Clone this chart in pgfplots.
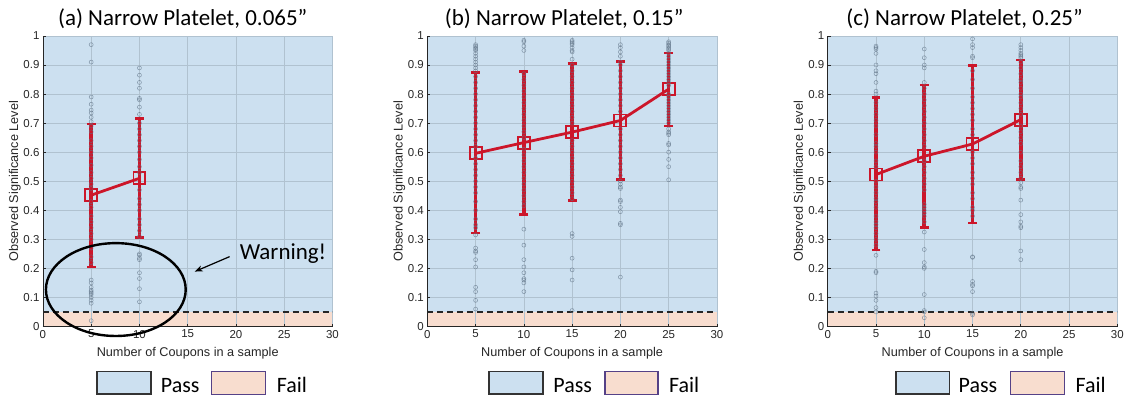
\documentclass[border=0pt]{standalone}
\usepackage{fontspec}
\setmainfont{Liberation Sans}
\newfontfamily\calibri{Carlito}
\usepackage{pgfplots}
\pgfplotsset{compat=1.18}
\usetikzlibrary{arrows.meta}
\definecolor{passblue}{RGB}{204,224,240}
\definecolor{failpeach}{RGB}{248,221,207}
\definecolor{gridc}{RGB}{176,194,208}
\definecolor{axc}{RGB}{38,38,38}
\definecolor{myred}{RGB}{204,22,42}
\definecolor{ptgray}{RGB}{95,115,135}
\definecolor{failedge}{RGB}{85,65,135}
\pgfplotsset{
  myax/.style={
    set layers,
    scale only axis, width=290bp, height=291bp,
    xmin=0, xmax=30, ymin=0, ymax=1,
    xtick={0,5,10,15,20,25,30},
    ytick={0,0.1,0.2,0.3,0.4,0.5,0.6,0.7,0.8,0.9,1},
    axis lines*=left,
    grid=major,
    major grid style={draw=gridc, line width=0.6bp},
    tick align=inside, major tick length=3bp,
    axis line style={draw=axc, line width=0.8bp},
    tick style={draw=axc, line width=0.6bp},
    ticklabel style={font=\fontsize{11.5bp}{13bp}\selectfont, text=axc},
    /pgf/number format/assume math mode=true,
    xlabel={Number of Coupons in a sample},
    ylabel={Observed Significance Level},
    label style={font=\fontsize{12.7bp}{14bp}\selectfont, text=axc},
    xlabel style={at={(axis description cs:0.5,-0.093)}, anchor=center},
    ylabel style={at={(axis description cs:-0.097,0.5)}, anchor=center},
  },
  meanline/.style={draw=myred, line width=2.8bp, mark=square, mark size=6bp,
    mark options={draw=myred, line width=1.9bp, fill=none, solid},
    error bars/.cd, y dir=both, y explicit,
    error bar style={line width=3.6bp, draw=myred},
    error mark options={rotate=90, mark size=4.4bp, line width=2.8bp, draw=myred}},
  pts/.style={only marks, mark=o, mark size=2bp,
    mark options={draw=ptgray, line width=0.5bp, draw opacity=0.7}},
}
\newcommand{\bgregions}{%
  \addplot[on layer=axis background, fill=passblue, draw=none] coordinates {(0,0.05) (30,0.05) (30,1) (0,1)} -- cycle;
  \addplot[on layer=axis background, fill=failpeach, draw=none] coordinates {(0,0) (30,0) (30,0.05) (0,0.05)} -- cycle;
  \addplot[draw=black!85, line width=1.5bp, dash pattern=on 6bp off 4bp] coordinates {(0,0.05) (30,0.05)};
}
\begin{document}
\begin{tikzpicture}

% ---------------- (a)
\begin{axis}[myax, at={(43bp,73bp)}, anchor=south west]
\bgregions
\addplot[meanline] table[x=x, y=y, y error plus expr=\thisrow{hi}-\thisrow{y}, y error minus expr=\thisrow{y}-\thisrow{lo}] {
x y lo hi
5 0.452 0.205 0.697
10 0.510 0.307 0.717
};
\addplot[pts] table[row sep=\\] {x y\\
5 0.97\\ 5 0.91\\ 5 0.79\\ 5 0.765\\ 5 0.745\\ 5 0.735\\ 5 0.72\\ 5 0.705\\ 5 0.69\\ 5 0.67\\
5 0.64\\ 5 0.62\\ 5 0.60\\ 5 0.58\\ 5 0.555\\ 5 0.53\\ 5 0.51\\ 5 0.49\\ 5 0.475\\ 5 0.43\\
5 0.41\\ 5 0.38\\ 5 0.36\\ 5 0.34\\ 5 0.32\\ 5 0.30\\ 5 0.27\\ 5 0.24\\ 5 0.22\\ 5 0.16\\
5 0.15\\ 5 0.135\\ 5 0.125\\ 5 0.12\\ 5 0.115\\ 5 0.11\\ 5 0.10\\ 5 0.09\\ 5 0.08\\ 5 0.02\\
10 0.89\\ 10 0.865\\ 10 0.84\\ 10 0.82\\ 10 0.785\\ 10 0.78\\ 10 0.755\\ 10 0.73\\ 10 0.70\\ 10 0.68\\
10 0.66\\ 10 0.64\\ 10 0.62\\ 10 0.60\\ 10 0.575\\ 10 0.55\\ 10 0.53\\ 10 0.47\\ 10 0.44\\ 10 0.42\\
10 0.40\\ 10 0.37\\ 10 0.35\\ 10 0.33\\ 10 0.31\\ 10 0.25\\ 10 0.245\\ 10 0.235\\ 10 0.23\\ 10 0.185\\
10 0.165\\ 10 0.13\\ 10 0.085\\
};
\end{axis}

% ---------------- (b)
\begin{axis}[myax, at={(428bp,73bp)}, anchor=south west]
\bgregions
\addplot[meanline] table[x=x, y=y, y error plus expr=\thisrow{hi}-\thisrow{y}, y error minus expr=\thisrow{y}-\thisrow{lo}] {
x y lo hi
5 0.596 0.322 0.873
10 0.633 0.386 0.878
15 0.669 0.435 0.906
20 0.709 0.507 0.911
25 0.817 0.690 0.941
};
\addplot[pts] table[row sep=\\] {x y\\
5 0.97\\ 5 0.965\\ 5 0.96\\ 5 0.955\\ 5 0.95\\ 5 0.94\\ 5 0.93\\ 5 0.92\\ 5 0.91\\ 5 0.90\\
5 0.89\\ 5 0.88\\ 5 0.86\\ 5 0.84\\ 5 0.82\\ 5 0.80\\ 5 0.78\\ 5 0.76\\ 5 0.74\\ 5 0.72\\
5 0.70\\ 5 0.68\\ 5 0.66\\ 5 0.64\\ 5 0.62\\ 5 0.58\\ 5 0.56\\ 5 0.54\\ 5 0.52\\ 5 0.50\\
5 0.48\\ 5 0.46\\ 5 0.43\\ 5 0.40\\ 5 0.37\\ 5 0.35\\ 5 0.34\\ 5 0.315\\ 5 0.27\\ 5 0.26\\
5 0.255\\ 5 0.23\\ 5 0.205\\ 5 0.135\\ 5 0.12\\ 5 0.09\\ 5 0.06\\
10 0.985\\ 10 0.98\\ 10 0.965\\ 10 0.95\\ 10 0.87\\ 10 0.85\\ 10 0.83\\ 10 0.81\\ 10 0.79\\ 10 0.77\\
10 0.75\\ 10 0.73\\ 10 0.71\\ 10 0.69\\ 10 0.67\\ 10 0.65\\ 10 0.61\\ 10 0.59\\ 10 0.57\\ 10 0.55\\
10 0.53\\ 10 0.51\\ 10 0.49\\ 10 0.47\\ 10 0.45\\ 10 0.43\\ 10 0.415\\ 10 0.335\\ 10 0.28\\ 10 0.23\\
10 0.205\\ 10 0.185\\ 10 0.165\\ 10 0.16\\ 10 0.15\\ 10 0.12\\
15 0.985\\ 15 0.98\\ 15 0.975\\ 15 0.97\\ 15 0.96\\ 15 0.95\\ 15 0.945\\ 15 0.92\\ 15 0.90\\ 15 0.88\\
15 0.86\\ 15 0.84\\ 15 0.82\\ 15 0.80\\ 15 0.78\\ 15 0.76\\ 15 0.74\\ 15 0.72\\ 15 0.70\\ 15 0.64\\
15 0.62\\ 15 0.60\\ 15 0.58\\ 15 0.56\\ 15 0.54\\ 15 0.52\\ 15 0.50\\ 15 0.48\\ 15 0.46\\ 15 0.44\\
15 0.32\\ 15 0.31\\ 15 0.235\\ 15 0.195\\ 15 0.16\\ 15 0.055\\
20 0.97\\ 20 0.96\\ 20 0.945\\ 20 0.93\\ 20 0.91\\ 20 0.90\\ 20 0.88\\ 20 0.86\\ 20 0.84\\ 20 0.82\\
20 0.80\\ 20 0.78\\ 20 0.76\\ 20 0.74\\ 20 0.68\\ 20 0.66\\ 20 0.64\\ 20 0.62\\ 20 0.60\\ 20 0.58\\
20 0.56\\ 20 0.54\\ 20 0.52\\ 20 0.50\\ 20 0.49\\ 20 0.48\\ 20 0.475\\ 20 0.435\\ 20 0.43\\ 20 0.41\\
20 0.395\\ 20 0.355\\ 20 0.35\\ 20 0.17\\
25 0.98\\ 25 0.975\\ 25 0.97\\ 25 0.965\\ 25 0.96\\ 25 0.955\\ 25 0.95\\ 25 0.94\\ 25 0.93\\ 25 0.92\\
25 0.91\\ 25 0.90\\ 25 0.89\\ 25 0.88\\ 25 0.87\\ 25 0.86\\ 25 0.85\\ 25 0.84\\ 25 0.83\\ 25 0.80\\
25 0.79\\ 25 0.78\\ 25 0.77\\ 25 0.76\\ 25 0.75\\ 25 0.74\\ 25 0.73\\ 25 0.72\\ 25 0.71\\ 25 0.70\\
25 0.68\\ 25 0.67\\ 25 0.665\\ 25 0.66\\ 25 0.63\\ 25 0.625\\ 25 0.60\\ 25 0.575\\ 25 0.55\\ 25 0.505\\
};
\end{axis}

% ---------------- (c)
\begin{axis}[myax, at={(829bp,73bp)}, anchor=south west]
\bgregions
\addplot[meanline] table[x=x, y=y, y error plus expr=\thisrow{hi}-\thisrow{y}, y error minus expr=\thisrow{y}-\thisrow{lo}] {
x y lo hi
5 0.523 0.263 0.787
10 0.586 0.342 0.831
15 0.628 0.356 0.899
20 0.712 0.507 0.917
};
\addplot[pts] table[row sep=\\] {x y\\
5 0.965\\ 5 0.96\\ 5 0.955\\ 5 0.94\\ 5 0.90\\ 5 0.88\\ 5 0.87\\ 5 0.84\\ 5 0.81\\ 5 0.80\\
5 0.77\\ 5 0.75\\ 5 0.73\\ 5 0.71\\ 5 0.69\\ 5 0.66\\ 5 0.63\\ 5 0.62\\ 5 0.60\\ 5 0.57\\
5 0.55\\ 5 0.50\\ 5 0.48\\ 5 0.46\\ 5 0.44\\ 5 0.43\\ 5 0.41\\ 5 0.38\\ 5 0.36\\ 5 0.35\\
5 0.34\\ 5 0.32\\ 5 0.30\\ 5 0.28\\ 5 0.245\\ 5 0.19\\ 5 0.185\\ 5 0.115\\ 5 0.105\\ 5 0.09\\
5 0.065\\ 5 0.05\\
10 0.955\\ 10 0.925\\ 10 0.90\\ 10 0.89\\ 10 0.84\\ 10 0.82\\ 10 0.80\\ 10 0.78\\ 10 0.76\\ 10 0.74\\
10 0.72\\ 10 0.70\\ 10 0.68\\ 10 0.66\\ 10 0.64\\ 10 0.62\\ 10 0.57\\ 10 0.55\\ 10 0.53\\ 10 0.51\\
10 0.49\\ 10 0.47\\ 10 0.42\\ 10 0.41\\ 10 0.40\\ 10 0.39\\ 10 0.38\\ 10 0.36\\ 10 0.325\\ 10 0.265\\
10 0.22\\ 10 0.205\\ 10 0.20\\ 10 0.11\\ 10 0.055\\ 10 0.05\\ 10 0.03\\
15 0.99\\ 15 0.97\\ 15 0.96\\ 15 0.93\\ 15 0.925\\ 15 0.88\\ 15 0.85\\ 15 0.82\\ 15 0.79\\ 15 0.77\\
15 0.75\\ 15 0.73\\ 15 0.71\\ 15 0.68\\ 15 0.66\\ 15 0.60\\ 15 0.58\\ 15 0.56\\ 15 0.53\\ 15 0.51\\
15 0.49\\ 15 0.46\\ 15 0.44\\ 15 0.41\\ 15 0.40\\ 15 0.38\\ 15 0.24\\ 15 0.238\\ 15 0.155\\ 15 0.145\\
15 0.14\\ 15 0.12\\ 15 0.045\\ 15 0.04\\
20 0.97\\ 20 0.96\\ 20 0.95\\ 20 0.94\\ 20 0.935\\ 20 0.93\\ 20 0.925\\ 20 0.91\\ 20 0.89\\ 20 0.87\\
20 0.85\\ 20 0.84\\ 20 0.82\\ 20 0.80\\ 20 0.79\\ 20 0.77\\ 20 0.75\\ 20 0.73\\ 20 0.69\\ 20 0.67\\
20 0.65\\ 20 0.63\\ 20 0.60\\ 20 0.57\\ 20 0.55\\ 20 0.53\\ 20 0.51\\ 20 0.495\\ 20 0.48\\ 20 0.475\\
20 0.435\\ 20 0.385\\ 20 0.36\\ 20 0.345\\ 20 0.34\\ 20 0.26\\ 20 0.23\\
};
\end{axis}

\begin{scope}[x=1bp,y=1bp]
% ---------------- titles
\begin{scope}[every node/.style={font=\calibri\fontsize{23bp}{27bp}\selectfont, inner sep=0pt}]
\node[anchor=base] at (183,374) {(a) Narrow Platelet, 0.065”};
\node[anchor=base] at (565,374) {(b) Narrow Platelet, 0.15”};
\node[anchor=base] at (966,374) {(c) Narrow Platelet, 0.25”};
\node[anchor=base west] at (240,140) {Warning!};
\end{scope}

% annotation
\draw[line width=2.4bp] (116,110) ellipse [x radius=70, y radius=46.5];
\draw[line width=1.2bp, -{Stealth[length=8bp, width=6bp]}] (230,143) -- (195,128);

% ---------------- legends
\begin{scope}[every node/.style={font=\calibri\fontsize{22bp}{26bp}\selectfont, inner sep=0pt, anchor=base west}]
\foreach \xa/\xb/\xc/\xd/\xe/\xf in {97/151/161/212/266/277, 490/544/554/606/659/670, 897/951/960/1012/1066/1077}{
  \draw[fill=passblue, draw=black!80, line width=1.8bp] (\xa,5) rectangle (\xb,28);
  \node at (\xc,7) {Pass};
  \draw[fill=failpeach, draw=failedge, line width=1.4bp] (\xd,5) rectangle (\xe,28);
  \node at (\xf,7) {Fail};
}
\end{scope}
\path (0,0) rectangle (1127,400);
\end{scope}
\end{tikzpicture}
\end{document}
